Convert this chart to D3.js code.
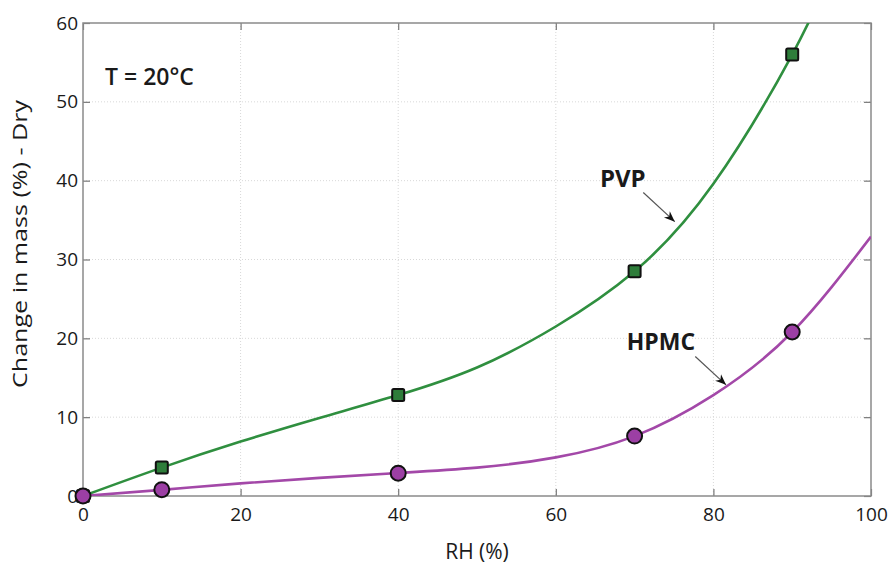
<!DOCTYPE html>
<html>
<head>
<meta charset="utf-8">
<style>
  body { margin: 0; background: #fff; }
  text { font-family: "Open Sans", "Liberation Sans", sans-serif; fill: #1a1a1a; }
</style>
<title>Change in mass vs RH</title>
</head>
<body>
<script src="https://cdn.jsdelivr.net/npm/d3@7"></script>
<script>
// measured points
var rh = [0, 10, 40, 70, 90];
var pvp = [0, 3.6, 12.8, 28.5, 56];
var hpmc = [0, 0.8, 2.9, 7.6, 20.8];

// fitted curves
var pvpFitRH = [0, 10, 20, 30, 40, 50, 60, 70, 80, 90, 95];
var pvpFit = [0, 3.6, 6.9, 9.9, 12.8, 16.3, 21.5, 28.5, 39.6, 56, 66.5];
var hpmcFitRH = [0, 10, 20, 30, 40, 50, 60, 70, 80, 90, 100];
var hpmcFit = [0, 0.78, 1.6, 2.3, 2.92, 3.6, 4.9, 7.6, 12.8, 20.8, 32.9];

var xTicks = [0, 20, 40, 60, 80, 100];
var yTicks = [0, 10, 20, 30, 40, 50, 60];

var margin = {top: 23, right: 19, bottom: 68, left: 83},
    width = 890 - margin.left - margin.right,
    height = 564 - margin.top - margin.bottom;

var green = "#2f8f3f", greenFill = "#2e7d3a";
var purple = "#a348a8", purpleFill = "#9c3fa4";

var x = d3.scaleLinear().domain([0, 100]).range([0, width]);
var y = d3.scaleLinear().domain([0, 60]).range([height, 0]);

var svg = d3.select("body").append("svg")
    .attr("width", 890)
    .attr("height", 564)
  .append("g")
    .attr("transform", "translate(" + margin.left + "," + margin.top + ")");

svg.append("clipPath").attr("id", "clip")
  .append("rect").attr("width", width).attr("height", height);

// grid
svg.append("g").selectAll("line").data(xTicks.slice(1, -1)).enter().append("line")
  .attr("x1", d => x(d)).attr("x2", d => x(d))
  .attr("y1", 0).attr("y2", height)
  .attr("stroke", "#d8d8d8").attr("stroke-dasharray", "1,2");
svg.append("g").selectAll("line").data(yTicks.slice(1, -1)).enter().append("line")
  .attr("y1", d => y(d)).attr("y2", d => y(d))
  .attr("x1", 0).attr("x2", width)
  .attr("stroke", "#d8d8d8").attr("stroke-dasharray", "1,2");

// axes, ticks pointing inward
function styleAxis(g) {
  g.select(".domain").remove();
  g.selectAll(".tick line").attr("stroke", "#777").attr("stroke-width", 1.2);
  g.selectAll("text").style("font-size", "19px").attr("fill", "#1a1a1a");
}
svg.append("g").attr("transform", "translate(0," + height + ")")
  .call(d3.axisBottom(x).tickValues(xTicks).tickSizeInner(-7).tickSizeOuter(0).tickPadding(12))
  .call(styleAxis);
svg.append("g")
  .call(d3.axisLeft(y).tickValues(yTicks).tickSizeInner(-7).tickSizeOuter(0).tickPadding(5))
  .call(styleAxis);
svg.append("g")
  .call(d3.axisTop(x).tickValues(xTicks).tickSizeInner(-7).tickSizeOuter(0).tickFormat(""))
  .call(styleAxis);
svg.append("g").attr("transform", "translate(" + width + ",0)")
  .call(d3.axisRight(y).tickValues(yTicks).tickSizeInner(-7).tickSizeOuter(0).tickFormat(""))
  .call(styleAxis);

svg.append("rect").attr("width", width).attr("height", height)
  .attr("fill", "none").attr("stroke", "#8a8a8a").attr("stroke-width", 1.5);

// fitted curves
var line = d3.line().x(d => x(d[0])).y(d => y(d[1])).curve(d3.curveNatural);
svg.append("path").datum(d3.zip(pvpFitRH, pvpFit))
  .attr("clip-path", "url(#clip)")
  .attr("d", line).attr("fill", "none").attr("stroke", green).attr("stroke-width", 2.6);
svg.append("path").datum(d3.zip(hpmcFitRH, hpmcFit))
  .attr("clip-path", "url(#clip)")
  .attr("d", line).attr("fill", "none").attr("stroke", purple).attr("stroke-width", 2.6);

// markers
var sq = 12;
svg.append("g").selectAll("rect").data(d3.zip(rh, pvp)).enter().append("rect")
  .attr("x", d => x(d[0]) - sq / 2).attr("y", d => y(d[1]) - sq / 2)
  .attr("width", sq).attr("height", sq).attr("rx", 1.5)
  .attr("fill", greenFill).attr("stroke", "#111").attr("stroke-width", 2);
svg.append("g").selectAll("circle").data(d3.zip(rh, hpmc)).enter().append("circle")
  .attr("cx", d => x(d[0])).attr("cy", d => y(d[1])).attr("r", 7.5)
  .attr("fill", purpleFill).attr("stroke", "#111").attr("stroke-width", 2);

// annotations
var defs = svg.append("defs");
defs.append("marker").attr("id", "arrow")
  .attr("viewBox", "0 0 10 10").attr("refX", 10).attr("refY", 5)
  .attr("markerWidth", 9).attr("markerHeight", 9).attr("orient", "auto")
  .append("path").attr("d", "M0,1 L10,5 L0,9 L3,5 Z").attr("fill", "#111");

var notes = [
  {label: "PVP", tx: 65.6, ty: 39.2, x1: 71.1, y1: 38.5, x2: 75.1, y2: 34.8},
  {label: "HPMC", tx: 69.0, ty: 18.5, x1: 77.7, y1: 17.7, x2: 81.6, y2: 14.1}
];
notes.forEach(function (n) {
  svg.append("text").attr("x", x(n.tx)).attr("y", y(n.ty))
    .style("font-size", n.label == "PVP" ? "24px" : "23px").style("font-weight", "bold").text(n.label);
  svg.append("line").attr("x1", x(n.x1)).attr("y1", y(n.y1))
    .attr("x2", x(n.x2)).attr("y2", y(n.y2))
    .attr("stroke", "#555").attr("stroke-width", 1.2).attr("marker-end", "url(#arrow)");
});

svg.append("text").attr("x", x(2.8)).attr("y", y(52.1))
  .style("font-size", "23px").style("font-weight", "600").text("T = 20°C");

// axis labels
svg.append("text").attr("x", width / 2).attr("y", height + 63)
  .attr("text-anchor", "middle").style("font-size", "21px").text("RH (%)");
svg.append("text")
  .attr("transform", "translate(" + (27 - margin.left) + "," + (244 - margin.top) + ") rotate(-90)")
  .attr("text-anchor", "middle").style("font-size", "20px")
  .attr("textLength", 288).attr("lengthAdjust", "spacingAndGlyphs")
  .text("Change in mass (%) - Dry");
</script>
</body>
</html>
